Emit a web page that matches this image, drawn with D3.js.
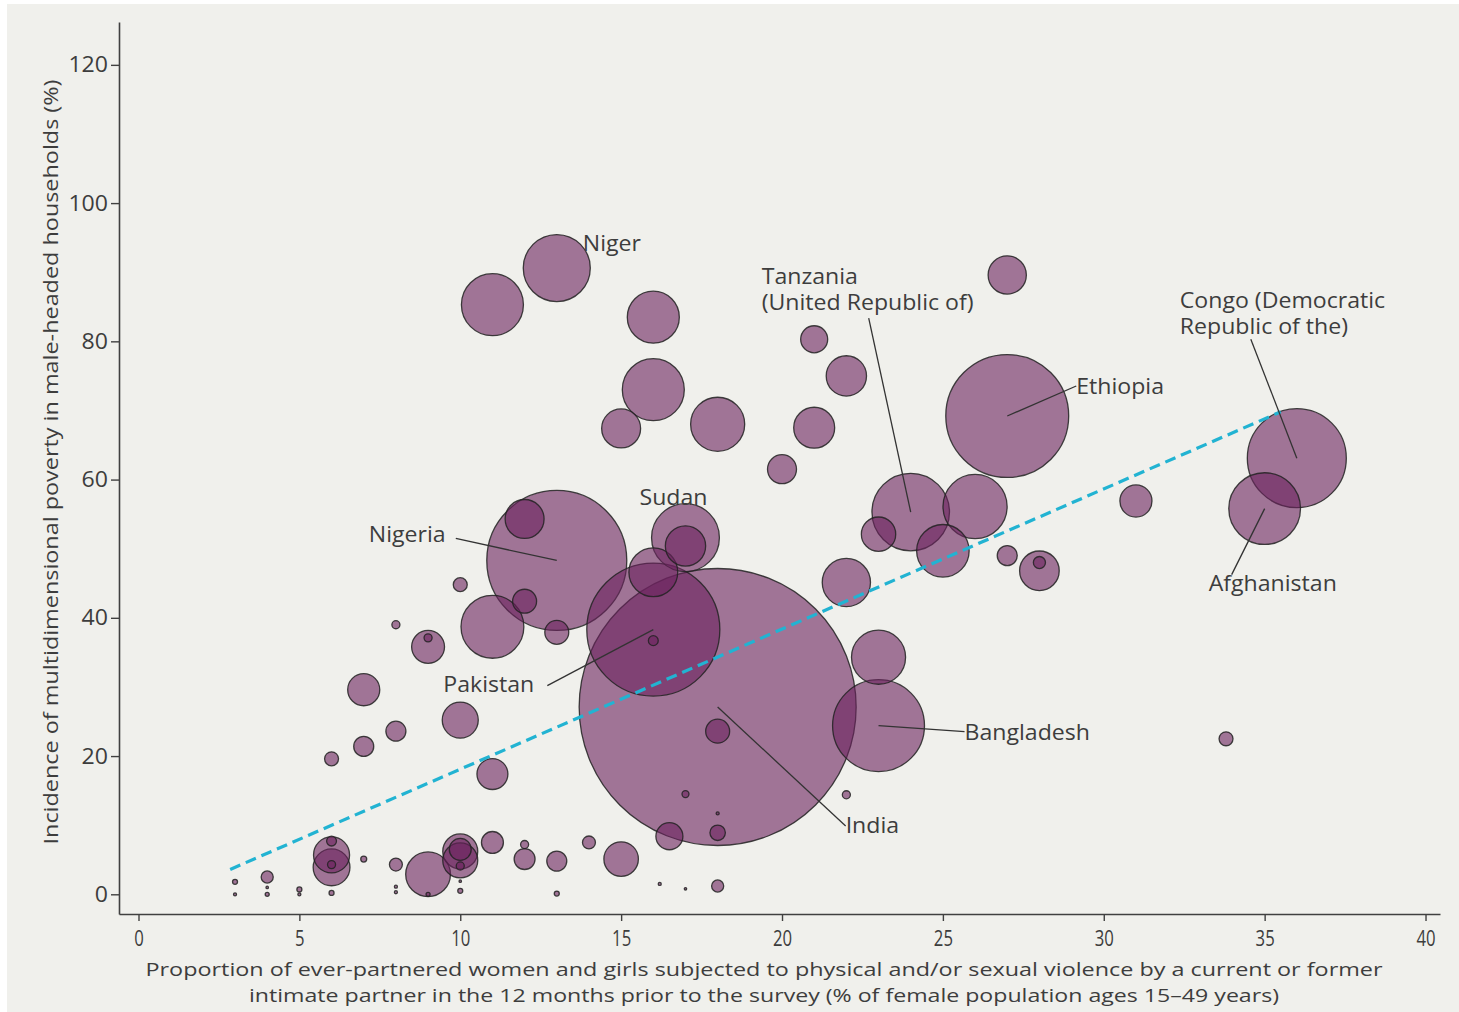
<!DOCTYPE html>
<html>
<head>
<meta charset="utf-8">
<script src="https://cdn.jsdelivr.net/npm/d3@7"></script>
<style>
  html, body { margin: 0; padding: 0; background: #ffffff; }
  svg { display: block; }
  text { font-family: "Open Sans", "Lato", sans-serif; fill: #3d3d3d; }
</style>
</head>
<body>
<svg id="chart" width="1459" height="1012"></svg>
<script>
// Intimate partner violence (%) vs. multidimensional poverty in male-headed households (%)
const violence = [13, 11, 16, 16, 15, 18, 21, 22, 21, 20, 27, 27, 36, 35, 31, 24, 26, 25, 23, 27,
  28, 28, 22, 23, 23, 18, 16, 13, 17, 17, 16, 12, 12, 11, 13, 10, 8, 9, 9, 7,
  10, 8, 7, 6, 11, 33.8, 18, 16, 17, 22, 18, 16.5, 18, 15, 16.2, 17, 18, 14, 13, 13,
  12, 12, 11, 10, 10, 10, 10, 10, 10, 9, 9, 8, 8, 8, 7, 6, 6, 6, 6, 6,
  5, 5, 4, 4, 4, 3, 3];
const poverty = [90.6, 85.3, 83.5, 73.0, 67.4, 68.0, 80.3, 75.0, 67.5, 61.5, 89.6, 69.2, 63.1, 55.8, 56.9, 55.3, 56.1, 49.7, 52.1, 49.0,
  46.8, 48.0, 45.1, 34.3, 24.4, 27.1, 38.3, 48.3, 51.6, 50.4, 46.6, 54.3, 42.4, 38.7, 37.9, 44.8, 39.0, 35.8, 37.1, 29.6,
  25.2, 23.6, 21.4, 19.6, 17.4, 22.5, 23.6, 36.7, 14.5, 14.4, 11.7, 8.4, 8.9, 5.1, 1.5, 0.8, 1.2, 7.5, 4.8, 0.1,
  7.2, 5.1, 7.5, 6.2, 4.9, 6.5, 4.1, 1.9, 0.5, 2.9, 0.0, 4.3, 1.1, 0.3, 5.1, 5.7, 3.9, 7.7, 4.3, 0.2,
  0.7, 0.0, 2.5, 1.0, 0.0, 1.8, 0.0];
// Bubble weight (millions), mapped to area
const weight = [83, 71, 50, 71, 28, 54, 13.5, 30, 31, 15.5, 27, 279, 181, 95, 19, 111, 76, 51, 21.8, 7.4,
  29, 2.7, 43, 54, 156, 1417, 327, 362, 85, 30, 44, 28, 10.6, 73, 10.6, 3.6, 1.2, 20, 1.2, 19,
  24, 7.4, 7.4, 3.6, 17.7, 3.6, 10.6, 1.8, 0.9, 1.2, 0.17, 13.5, 4.4, 22, 0.17, 0.11, 2.7, 3.1, 7.4, 0.46,
  1.2, 8.1, 8.9, 22.6, 22.6, 8.9, 1.2, 0.11, 0.46, 37, 0.3, 3.1, 0.17, 0.17, 0.66, 24, 25, 1.8, 1.2, 0.46,
  0.46, 0.17, 2.7, 0.11, 0.3, 0.46, 0.17];
const country = ["Niger", "", "", "", "", "", "", "", "", "", "", "Ethiopia", "Congo", "Afghanistan", "", "Tanzania", "", "", "", "",
  "", "", "", "", "Bangladesh", "India", "Pakistan", "Nigeria", "Sudan"];

// Fitted trend line endpoints
const trendX = [2.85, 35.5];
const trendY = [3.6, 69.8];

const xTicks = [0, 5, 10, 15, 20, 25, 30, 35, 40];
const yTicks = [0, 20, 40, 60, 80, 100, 120];

const xTitle = [
  "Proportion of ever-partnered women and girls subjected to physical and/or sexual violence by a current or former",
  "intimate partner in the 12 months prior to the survey (% of female population ages 15\u201349 years)"
];
const yTitle = "Incidence of multidimensional poverty in male-headed households (%)";

// Callout text and placement (offsets from the bubble centre)
const callouts = [
  { name: "Niger", lines: ["Niger"], dx: 26, dy: -17, line: null },
  { name: "Tanzania", lines: ["Tanzania", "(United Republic of)"], dx: -149, dy: -228, line: [-42, -194] },
  { name: "Congo", lines: ["Congo (Democratic", "Republic of the)"], dx: -117, dy: -150, line: [-46, -119] },
  { name: "Ethiopia", lines: ["Ethiopia"], dx: 69, dy: -22, line: [69, -30] },
  { name: "Sudan", lines: ["Sudan"], dx: -46, dy: -33, line: null },
  { name: "Nigeria", lines: ["Nigeria"], dx: -188, dy: -18, line: [-101, -22] },
  { name: "Pakistan", lines: ["Pakistan"], dx: -210, dy: 62, line: [-106, 56] },
  { name: "Bangladesh", lines: ["Bangladesh"], dx: 86, dy: 14, line: [86, 6] },
  { name: "India", lines: ["India"], dx: 128, dy: 126, line: [128, 119] },
  { name: "Afghanistan", lines: ["Afghanistan"], dx: -56, dy: 82, line: [-33, 66] }
];

const W = 1459, H = 1012;
const svg = d3.select("#chart");

// Widen a text run horizontally so the face reads like a broader geometric sans
function widen(sel, factor) {
  sel.each(function () {
    const len = this.getComputedTextLength();
    d3.select(this).attr("textLength", len * factor).attr("lengthAdjust", "spacingAndGlyphs");
  });
}
function fitTo(sel, width) {
  sel.attr("textLength", width).attr("lengthAdjust", "spacingAndGlyphs");
}

// Panel background
svg.append("rect").attr("x", 7).attr("y", 4).attr("width", W - 7).attr("height", H - 4).attr("fill", "#f0f0ec");

const x = d3.scaleLinear().domain([-0.606, 40.45]).range([119, 1440]);
const y = d3.scaleLinear().domain([-2.85, 126.2]).range([914, 22]);
const r = d3.scaleSqrt().domain([0, 1417]).range([0, 138.5]);

// Axes
const xAxis = d3.axisBottom(x).tickValues(xTicks).tickSize(7).tickSizeOuter(0).tickPadding(9);
const yAxis = d3.axisLeft(y).tickValues(yTicks).tickSize(8).tickSizeOuter(0).tickPadding(3);

const gx = svg.append("g").attr("transform", "translate(0,914)").call(xAxis);
const gy = svg.append("g").attr("transform", "translate(119,0)").call(yAxis);

[gx, gy].forEach(g => {
  g.select(".domain").attr("stroke", "#404040").attr("stroke-width", 1.6);
  g.selectAll(".tick line").attr("stroke", "#404040").attr("stroke-width", 1.4);
  g.selectAll(".tick text").attr("fill", "#444").style("font-family", "'Open Sans', sans-serif").attr("font-size", 22);
});
gx.selectAll(".tick text").attr("transform", "scale(0.76,1)");
gy.selectAll(".tick text").call(widen, 1.05);

// Bubbles
const data = violence.map((v, i) => ({ x: v, y: poverty[i], w: weight[i], name: country[i] || "" }));
const byName = {};
data.forEach(d => { if (d.name) byName[d.name] = d; });

svg.append("g")
  .selectAll("circle")
  .data(data.slice().sort((a, b) => b.w - a.w))
  .join("circle")
  .attr("cx", d => x(d.x))
  .attr("cy", d => y(d.y))
  .attr("r", d => Math.max(r(d.w), 1))
  .attr("fill", "rgb(106,33,93)")
  .attr("fill-opacity", 0.6)
  .attr("stroke", "#222")
  .attr("stroke-opacity", 0.85)
  .attr("stroke-width", 1.3);

// Trend line
svg.append("path")
  .datum(trendX.map((v, i) => [v, trendY[i]]))
  .attr("d", d3.line().x(d => x(d[0])).y(d => y(d[1])))
  .attr("fill", "none")
  .attr("stroke", "#22b3d2")
  .attr("stroke-width", 3.2)
  .attr("stroke-dasharray", "11,6");

// Callouts
const gl = svg.append("g");
callouts.forEach(c => {
  const d = byName[c.name];
  const cx = x(d.x), cy = y(d.y);
  if (c.line) {
    gl.append("line")
      .attr("x1", cx).attr("y1", cy)
      .attr("x2", cx + c.line[0]).attr("y2", cy + c.line[1])
      .attr("stroke", "#333").attr("stroke-width", 1.3);
  }
  c.lines.forEach((s, i) => {
    gl.append("text")
      .attr("x", cx + c.dx)
      .attr("y", cy + c.dy + i * 26)
      .attr("font-size", 21)
      .text(s)
      .call(widen, 1.1);
  });
});

// Axis titles
svg.append("text")
  .attr("transform", "translate(58,462) rotate(-90)")
  .attr("text-anchor", "middle")
  .attr("font-size", 20.5)
  .text(yTitle)
  .call(fitTo, 765);

// Two-line x title
const xWidths = [1237, 1030];
xTitle.forEach((s, i) => {
  svg.append("text")
    .attr("text-anchor", "middle")
    .attr("font-size", 19)
    .attr("x", 764)
    .attr("y", 976 + i * 26)
    .text(s)
    .call(fitTo, xWidths[i]);
});
</script>
</body>
</html>
